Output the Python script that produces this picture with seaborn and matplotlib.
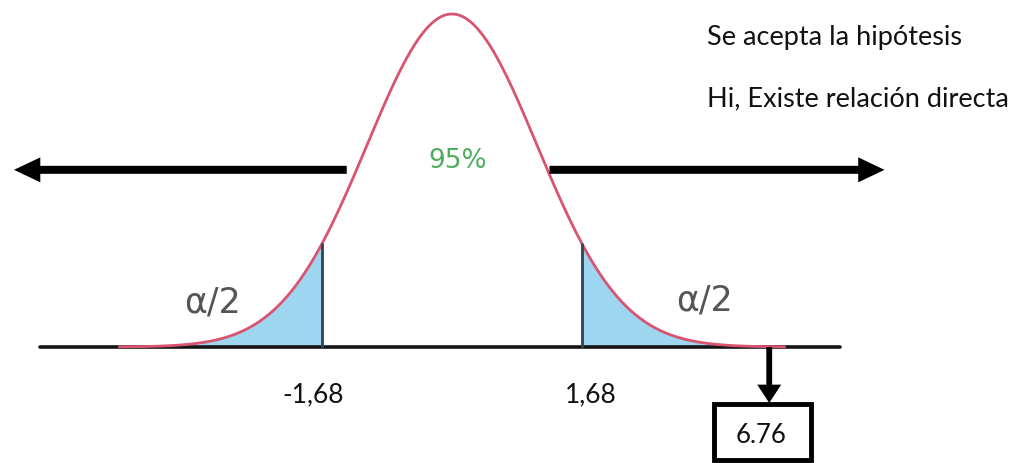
import numpy as np
import pandas as pd
import matplotlib
matplotlib.use("Agg")
import matplotlib.pyplot as plt
from matplotlib.patches import Rectangle
import seaborn as sns

# ---- data ----
crit_values = [-1.68, 1.68]
crit_labels = ["-1,68", "1,68"]
stat_value = 6.76
stat_label = "6.76"
confidence_label = "95%"
tail_label = "α/2"
notes = ["Se acepta la hipótesis", "Hi, Existe relación directa"]

# schematic (not to scale) position of the statistic marker and curve spread
stat_pos = 4.10
curve_sd = 1.098

sns.set_theme(style="white")
plt.rcParams["font.family"] = ["Lato", "DejaVu Sans"]

fig = plt.figure(figsize=(10.17, 4.64), dpi=100)
ax = fig.add_axes([0, 0, 1, 1])
ax.set_xlim(-5.841, 7.302)
ax.set_ylim(-0.3483, 1.045)
ax.axis("off")

x = np.linspace(-4.3, 4.3, 600)
y = np.exp(-0.5 * (x / curve_sd) ** 2)
df = pd.DataFrame({"x": x, "y": y})

# tails
blue = "#9dd6ee"
lo, hi = crit_values
ax.fill_between(x, 0, y, where=x <= lo, color=blue, lw=0)
ax.fill_between(x, 0, y, where=x >= hi, color=blue, lw=0)

# baseline
ax.plot([-5.33, 5.02], [0, 0], color="#151515", lw=2.6, zorder=3)

# curve
sns.lineplot(data=df, x="x", y="y", ax=ax, color="#d95470", lw=2.0, zorder=4)

# critical lines
for c in crit_values:
    h = np.exp(-0.5 * (c / curve_sd) ** 2)
    ax.plot([c, c], [0, h], color="#2c4656", lw=2.0, zorder=5)

# critical labels
for c, lab in zip(crit_values, crit_labels):
    ax.text(c + np.sign(c) * 0.12, -0.141, lab, ha="center", va="center",
            fontsize=19, color="#111111")

# confidence label
ax.text(0.08, 0.563, confidence_label, ha="center", va="center",
        fontsize=19, color="#4fae5d", family=["DejaVu Sans"])

# tail labels
ax.text(-3.1, 0.138, tail_label, ha="center", va="center", fontsize=25,
        color="#555555", family=["DejaVu Sans"])
ax.text(3.26, 0.144, tail_label, ha="center", va="center", fontsize=25,
        color="#555555", family=["DejaVu Sans"])

# horizontal arrows
ay = 0.532
ax.arrow(-1.36, ay, -4.30, 0, width=0.024, head_width=0.075, head_length=0.34,
         length_includes_head=True, color="black", lw=0, zorder=6)
ax.arrow(1.26, ay, 4.33, 0, width=0.024, head_width=0.075, head_length=0.34,
         length_includes_head=True, color="black", lw=0, zorder=6)

# down arrow to statistic box
ax.arrow(stat_pos, 0, 0, -0.168, width=0.075, head_width=0.31, head_length=0.055,
         length_includes_head=True, color="black", lw=0, zorder=6)

# statistic box
ax.add_patch(Rectangle((3.386, -0.339), 1.254, 0.168, fill=False,
                       edgecolor="black", lw=3.5, zorder=6))
ax.text(3.99, -0.262, stat_label, ha="center", va="center", fontsize=18.5,
        color="#111111")

# notes
ax.text(3.30, 0.910, notes[0], ha="left", va="baseline", fontsize=19.5,
        color="#111111")
ax.text(3.30, 0.727, notes[1], ha="left", va="baseline", fontsize=19.5,
        color="#111111")

fig.savefig("out.png", dpi=100)
